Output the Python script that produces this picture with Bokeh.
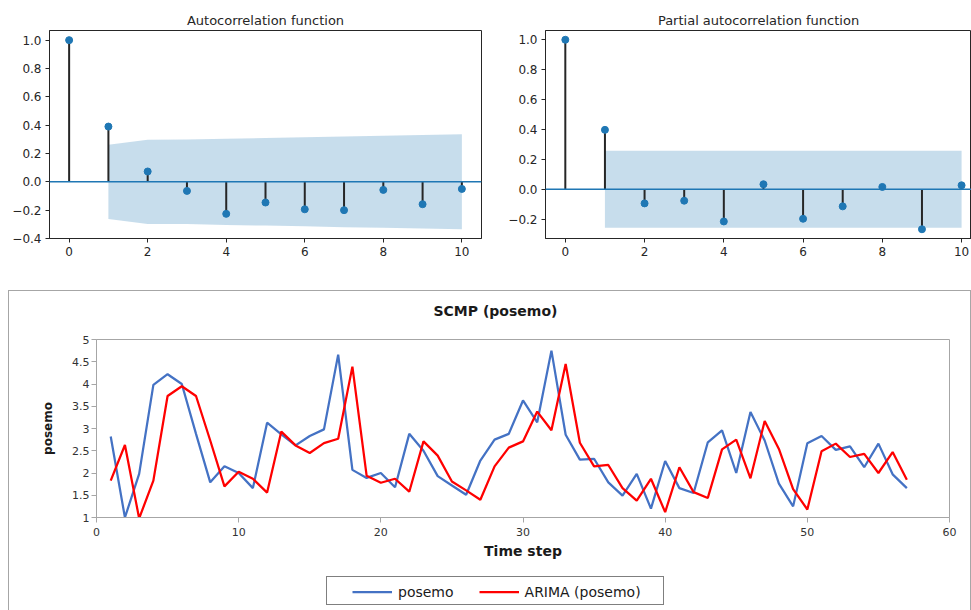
from bokeh.plotting import figure
from bokeh.layouts import column, row, Spacer
from bokeh.models import (Range1d, FixedTicker, CustomJSTickFormatter, Span, Legend,
                          LegendItem, Title)
from bokeh.embed import file_html
from bokeh.resources import INLINE

# ---------------- data ----------------
lags = [0, 1, 2, 3, 4, 5, 6, 7, 8, 9, 10]
acf_vals = [1.0, 0.39, 0.073, -0.064, -0.226, -0.146, -0.194, -0.2, -0.057, -0.158, -0.05]
acf_conf_lags = [1, 2, 3, 4, 5, 6, 7, 8, 9, 10]
acf_conf = [0.262, 0.297, 0.298, 0.304, 0.309, 0.314, 0.320, 0.325, 0.330, 0.335]
pacf_vals = [1.0, 0.397, -0.095, -0.077, -0.216, 0.033, -0.198, -0.115, 0.015, -0.268, 0.026]
pacf_conf = [0.258, 0.258, 0.258, 0.258, 0.258, 0.258, 0.258, 0.258, 0.258, 0.258]
acf_yticks = [-0.4, -0.2, 0.0, 0.2, 0.4, 0.6, 0.8, 1.0]
pacf_yticks = [-0.2, 0.0, 0.2, 0.4, 0.6, 0.8, 1.0]
lag_ticks = [0, 2, 4, 6, 8, 10]

time_steps = list(range(1, 58))
posemo = [2.82, 1.0, 1.98, 3.98, 4.22, 4.0, 2.88, 1.79, 2.15, 2.0,
          1.66, 3.13, 2.87, 2.62, 2.83, 2.98, 4.66, 2.07, 1.89, 2.0,
          1.68, 2.88, 2.5, 1.93, 1.72, 1.51, 2.28, 2.75, 2.88, 3.63,
          3.14, 4.75, 2.86, 2.3, 2.32, 1.79, 1.49, 1.98, 1.2, 2.27,
          1.66, 1.55, 2.69, 2.96, 2.0, 3.37, 2.73, 1.76, 1.25, 2.67,
          2.83, 2.52, 2.6, 2.13, 2.66, 1.97, 1.66]
arima = [1.83, 2.63, 0.98, 1.83, 3.73, 3.95, 3.73, 2.73, 1.7, 2.03,
         1.87, 1.56, 2.93, 2.62, 2.45, 2.67, 2.77, 4.39, 1.94, 1.78,
         1.87, 1.58, 2.71, 2.39, 1.81, 1.61, 1.4, 2.15, 2.57, 2.71,
         3.38, 2.96, 4.45, 2.68, 2.15, 2.18, 1.66, 1.38, 1.87, 1.12,
         2.13, 1.57, 1.44, 2.53, 2.75, 1.88, 3.17, 2.54, 1.64, 1.18,
         2.49, 2.66, 2.36, 2.43, 2.0, 2.47, 1.85]
time_ticks = [0, 10, 20, 30, 40, 50, 60]
value_ticks = [1, 1.5, 2, 2.5, 3, 3.5, 4, 4.5, 5]
series_names = ["posemo", "ARIMA (posemo)"]

MPL_BLUE = "#1f77b4"
DARK = "#262626"
BLUE = "#4472C4"
RED = "#FF0000"


def corr_fig(title, vals, conf, yticks, width, left, right, top, x_end, y0, y1):
    p = figure(width=width, height=262, x_range=Range1d(-0.5, x_end), y_range=Range1d(y0, y1),
               output_backend="svg", toolbar_location=None,
               min_border_left=left, min_border_right=right, min_border_top=top,
               min_border_bottom=24)
    p.title.text = title
    p.title.align = "center"
    p.title.text_font = "DejaVu Sans"
    p.title.text_font_size = "13px"
    p.title.text_font_style = "normal"
    p.title.text_color = DARK
    p.title.standoff = 5
    p.xgrid.visible = False
    p.ygrid.visible = False
    p.outline_line_color = DARK
    p.outline_line_alpha = 1
    p.varea(x=acf_conf_lags, y1=[-c for c in conf], y2=conf, fill_color=MPL_BLUE, fill_alpha=0.25)
    p.add_layout(Span(location=0, dimension="width", line_color=MPL_BLUE, line_width=1.5))
    p.segment(x0=lags, y0=[0] * len(lags), x1=lags, y1=vals, line_color=DARK, line_width=2)
    p.scatter(x=lags, y=vals, size=7, color=MPL_BLUE)
    p.xaxis.ticker = FixedTicker(ticks=lag_ticks)
    p.yaxis.ticker = FixedTicker(ticks=yticks)
    p.yaxis.formatter = CustomJSTickFormatter(
        code="return (tick < -1e-9 ? '\u2212' : '') + Math.abs(tick).toFixed(1);")
    for ax in (p.xaxis, p.yaxis):
        ax.axis_line_color = DARK
        ax.major_tick_line_color = DARK
        ax.minor_tick_line_color = None
        ax.major_tick_in = 0
        ax.major_tick_out = 4
        ax.major_label_text_font = "DejaVu Sans"
        ax.major_label_text_font_size = "12px"
        ax.major_label_text_color = DARK
        ax.major_label_standoff = 4
    return p


p1 = corr_fig("Autocorrelation function", acf_vals, acf_conf, acf_yticks,
              490, 49, 9, 30, 10.5, -0.4, 1.068)
p2 = corr_fig("Partial autocorrelation function", pacf_vals, pacf_conf, pacf_yticks,
              481, 55, 0, 27, 10.25, -0.33, 1.062)

# ---------------- bottom chart ----------------
p3 = figure(width=963, height=280, x_range=Range1d(0, 60), y_range=Range1d(1, 5),
            output_backend="svg", toolbar_location=None,
            min_border_left=88, min_border_right=22, min_border_top=49, min_border_bottom=53)
p3.border_fill_alpha = 0
p3.title.text = ""
# spacer title (closest to the frame), then the visible title above it
p3.add_layout(Title(text=" ", text_font_size="1px", standoff=18), "above")
p3.add_layout(Title(text="SCMP (posemo)", align="left", offset=337, standoff=0,
                    text_font="DejaVu Sans", text_font_size="14px", text_font_style="bold",
                    text_color="#1a1a1a"), "above")
p3.xgrid.visible = False
p3.ygrid.visible = False
p3.outline_line_color = "#a6a6a6"

p3.line(time_steps, posemo, line_color=BLUE, line_width=2.25)
p3.line(time_steps, arima, line_color=RED, line_width=2.25)

p3.xaxis.ticker = FixedTicker(ticks=time_ticks)
p3.yaxis.ticker = FixedTicker(ticks=value_ticks)
p3.yaxis.formatter = CustomJSTickFormatter(code="return tick.toString();")
p3.xaxis.axis_label = "Time step"
p3.yaxis.axis_label = "posemo"
for ax in (p3.xaxis, p3.yaxis):
    ax.axis_line_color = "#a6a6a6"
    ax.major_tick_line_color = "#a6a6a6"
    ax.minor_tick_line_color = None
    ax.major_tick_in = 0
    ax.major_tick_out = 5
    ax.major_label_text_font = "DejaVu Sans"
    ax.major_label_text_font_size = "11px"
    ax.major_label_text_color = "#333333"
    ax.axis_label_text_font = "DejaVu Sans"
    ax.axis_label_text_font_style = "bold"
    ax.axis_label_text_color = "#1a1a1a"
p3.xaxis.major_label_standoff = 5
p3.yaxis.major_label_standoff = 2
p3.xaxis.axis_label_text_font_size = "14px"
p3.yaxis.axis_label_text_font_size = "12px"
p3.xaxis.axis_label_standoff = 4
p3.yaxis.axis_label_standoff = 14

# ---------------- legend strip (series drawn off-view, only legend shows) ----------------
pl = figure(width=963, height=40, x_range=Range1d(1000, 1001), y_range=Range1d(1000, 1001),
            x_axis_type=None, y_axis_type=None, output_backend="svg", toolbar_location=None,
            min_border=0, min_border_left=0, min_border_right=0, min_border_top=0,
            min_border_bottom=0)
pl.outline_line_color = None
pl.border_fill_alpha = 0
pl.background_fill_alpha = 0
rb = pl.line(time_steps, posemo, line_color=BLUE, line_width=2.25)
rr = pl.line(time_steps, arima, line_color=RED, line_width=2.25)
rbox = pl.line(time_steps, posemo, line_alpha=0)

box_legend = Legend(items=[LegendItem(label=" ", renderers=[rbox])],
                    location=(230, 5), padding=0, margin=0, spacing=0,
                    glyph_width=336, glyph_height=27, label_standoff=0,
                    label_text_font_size="1px", label_width=0,
                    border_line_color="black", border_line_width=1.2,
                    background_fill_color="white", background_fill_alpha=1)
pl.add_layout(box_legend)

legend = Legend(items=[LegendItem(label=series_names[0], renderers=[rb]),
                       LegendItem(label=series_names[1], renderers=[rr])],
                orientation="horizontal", location=(251, 5), margin=0,
                border_line_alpha=0, background_fill_alpha=0,
                padding=5, spacing=25, glyph_width=40, glyph_height=17, label_standoff=6,
                label_text_font="DejaVu Sans", label_text_font_size="14px",
                label_text_color="#1a1a1a")
pl.add_layout(legend)

bottom = column(p3, pl, styles={"box-shadow": "inset 1px 1px 0 #a6a6a6, inset -1px 0 0 #a6a6a6"})

layout = column(row(p1, p2), Spacer(height=28), row(Spacer(width=8), bottom))

open("out.html", "w").write(file_html(layout, INLINE))
